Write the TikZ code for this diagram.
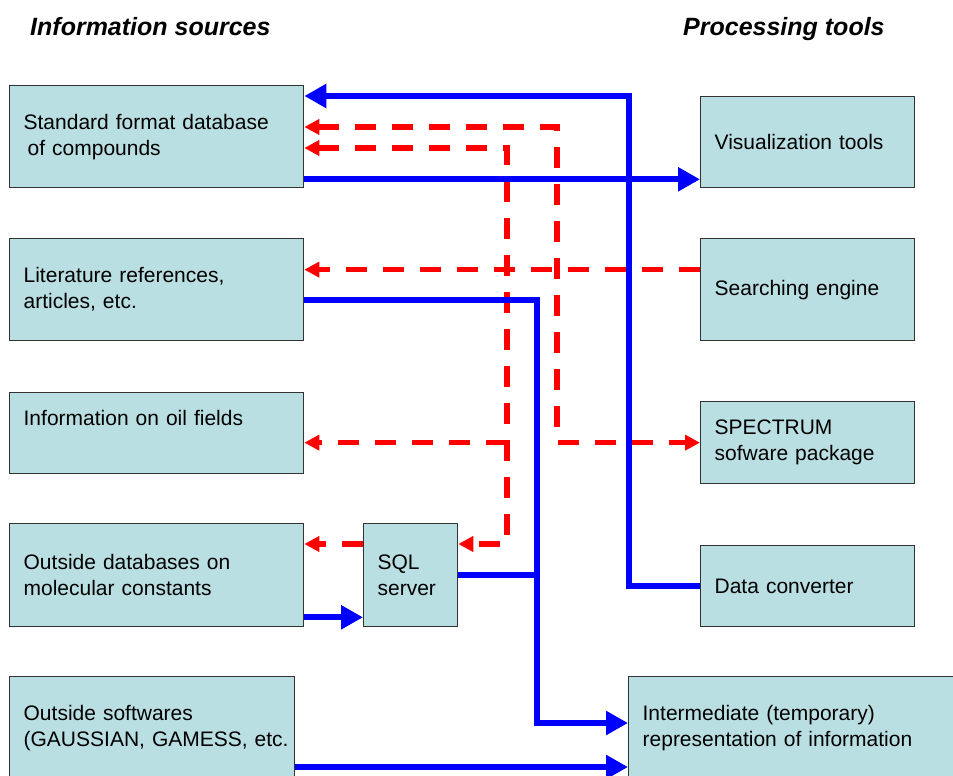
\documentclass[tikz,border=0pt]{standalone}
\usepackage{fontspec}
\setmainfont{Liberation Sans}
\usetikzlibrary{arrows.meta,positioning,calc}
\definecolor{boxfill}{RGB}{185,223,227}
\definecolor{boxline}{RGB}{51,51,51}
\definecolor{flowblue}{RGB}{0,0,255}
\definecolor{flowred}{RGB}{255,0,0}

\begin{document}
\begin{tikzpicture}[x=1pt,y=-1pt,
  infobox/.style={draw=boxline,fill=boxfill,line width=1.3pt,anchor=north west,
    inner xsep=14pt,inner ysep=0pt,align=left,font=\fontsize{21}{26}\selectfont},
  heading/.style={anchor=base west,inner sep=0pt,font=\fontsize{25}{30}\selectfont\bfseries\itshape},
  blueflow/.style={flowblue,line width=6pt,>={Triangle[length=22pt,width=23pt]}},
  redflow/.style={flowred,line width=5.5pt,dash pattern=on 21pt off 16pt,>={Triangle[length=15pt,width=15pt]}}]
  \useasboundingbox (0,0) rectangle (953,776);

  \node[heading] (srchead) at (30,36) {Information sources};
  \node[heading] (prochead) at (683,36) {Processing tools};

  \node[infobox,minimum width=294pt,text width=266pt,minimum height=102pt] (stdb) at (9,85)
    {Standard format database\\\hspace*{4pt}of compounds};
  \node[infobox,minimum width=294pt,text width=266pt,minimum height=102pt] (litref) at (9,238)
    {Literature references,\\articles, etc.};
  \node[infobox,minimum width=294pt,text width=266pt,minimum height=81pt,text depth=31pt] (oilf) at (9,392)
    {Information on oil fields};
  \node[infobox,minimum width=294pt,text width=266pt,minimum height=103pt] (outdb) at (9,523)
    {Outside databases on\\molecular constants};
  \node[infobox,minimum width=285pt,text width=257pt,minimum height=102pt] (outsw) at (9,676)
    {Outside softwares\\\mbox{(GAUSSIAN, GAMESS, etc.}};
  \node[infobox,minimum width=94pt,text width=66pt,minimum height=103pt] (sql) at (363,523)
    {SQL\\server};

  \node[infobox,minimum width=214pt,text width=186pt,minimum height=91pt] (vis) at (700,96)
    {Visualization tools};
  \node[infobox,minimum width=214pt,text width=186pt,minimum height=102pt] (search) at (700,238)
    {Searching engine};
  \node[infobox,minimum width=214pt,text width=186pt,minimum height=82pt] (spectrum) at (700,401)
    {SPECTRUM\\sofware package};
  \node[infobox,minimum width=214pt,text width=186pt,minimum height=81pt] (conv) at (700,545)
    {Data converter};
  \node[infobox,minimum width=330pt,text width=302pt,minimum height=102pt] (interm) at (628,676)
    {Intermediate (temporary)\\representation of information};

  \coordinate (convup) at (629,96);
  \coordinate (visin) at ([yshift=9pt]vis.south west);
  \coordinate (litdown) at (537,723);
  \coordinate (litout) at ([yshift=-10pt]litref.east);
  \coordinate (outdbout) at ([yshift=10pt]outdb.south east);
  \coordinate (outswout) at ([yshift=-91pt]outsw.north east);
  \coordinate (specbus) at (557,127);
  \coordinate (sqlbus) at (507,148);
  \coordinate (sqlin) at ([yshift=-21pt]sql.north east);
  \coordinate (searchout) at ([yshift=20pt]search.west);

  \draw[redflow,<->] (stdb.east |- specbus) -- (specbus) |- (spectrum.west);
  \draw[redflow,<->] (stdb.east |- sqlbus) -- (sqlbus) |- (sqlin);
  \draw[redflow,->] (sqlbus |- spectrum.west) -- (oilf.east |- spectrum.west);
  \draw[redflow,->] (searchout) -- (litref.east |- searchout);
  \draw[redflow,->] (sql.west |- sqlin) -- (outdb.east |- sqlin);

  \draw[blueflow,->] (conv.west) -| (convup) -- ([yshift=-11pt]stdb.north east);
  \draw[blueflow,->] (stdb.east |- visin) -- (visin);
  \draw[blueflow,->] (litout) -| (litdown) -- (interm.west |- litdown);
  \draw[blueflow] (sql.east) -- (sql.east -| litdown);
  \draw[blueflow,->] (outdbout) -- (sql.west |- outdbout);
  \draw[blueflow,->] (outswout) -- (interm.west |- outswout);
\end{tikzpicture}
\end{document}
